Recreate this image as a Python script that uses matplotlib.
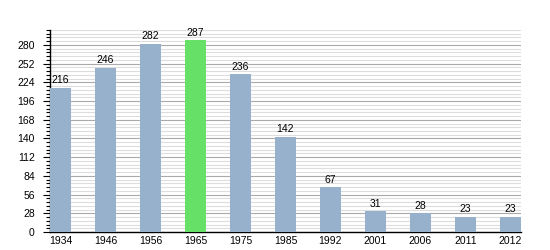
import matplotlib
matplotlib.use("Agg")
import matplotlib.pyplot as plt
from matplotlib.ticker import MultipleLocator

# population by census year
YEARS = ["1934", "1946", "1956", "1965", "1975", "1985",
         "1992", "2001", "2006", "2011", "2012"]
POP = [216, 246, 282, 287, 236, 142, 67, 31, 28, 23, 23]
HIGHLIGHT = "1965"

BAR = "#97b1cc"
PEAK = "#66e066"

plt.rcParams["font.family"] = ["Liberation Sans", "DejaVu Sans"]

fig = plt.figure(figsize=(5.5, 2.5), dpi=100)
ax = fig.add_axes([0.091, 0.072, 0.856, 0.808])

x = range(len(YEARS))
colors = [PEAK if y == HIGHLIGHT else BAR for y in YEARS]
ax.bar(x, POP, width=0.47, color=colors, zorder=3)
for i, v in zip(x, POP):
    ax.text(i, v + 4, str(v), ha="center", va="bottom", fontsize=7.5,
            zorder=4)

ax.set_xlim(-0.235, len(YEARS) - 1 + 0.235)
ax.set_ylim(0, 302.4)
ax.yaxis.set_major_locator(MultipleLocator(28))
ax.yaxis.set_minor_locator(MultipleLocator(5.6))
ax.grid(axis="y", which="major", color="#aaaaaa", lw=0.8, zorder=0)
ax.grid(axis="y", which="minor", color="#dddddd", lw=0.8, zorder=0)

ax.set_xticks(list(x))
ax.set_xticklabels(YEARS)
ax.tick_params(axis="x", length=0, labelsize=7.5, pad=3)
ax.tick_params(axis="y", which="major", length=5, width=0.8, labelsize=7.5,
               pad=6)
ax.tick_params(axis="y", which="minor", length=3, width=0.8)

for s in ("top", "right"):
    ax.spines[s].set_visible(False)
ax.spines["left"].set_linewidth(1.0)
ax.spines["bottom"].set_linewidth(1.0)

fig.savefig("out.png", dpi=100)
